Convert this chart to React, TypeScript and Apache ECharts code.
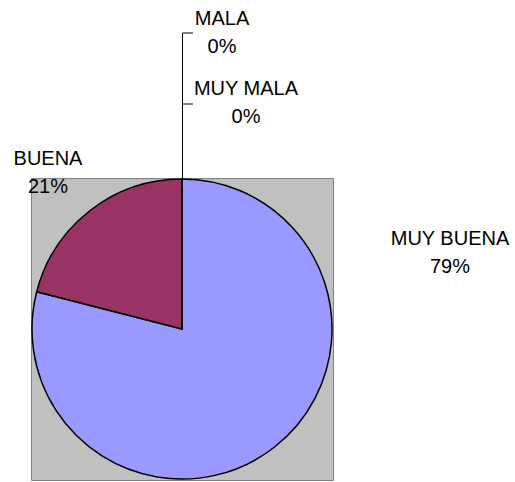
import React, { useEffect, useRef } from "react";
import * as echarts from "echarts";

const categories = ["MUY BUENA", "BUENA", "MALA", "MUY MALA"];
const values = [79, 21, 0, 0];
const colors = ["#9999FF", "#993366", "#FFFFCC", "#CCFFFF"];

// label centres (layout only)
const labelPos: [number, number][] = [
  [450, 252],
  [48, 172],
  [222, 32],
  [246, 102],
];

export default function App() {
  const ref = useRef<HTMLDivElement>(null);
  useEffect(() => {
    document.body.style.margin = "0";
    const chart = echarts.init(ref.current!, null, { renderer: "svg" });
    const font = "'Liberation Sans', Arial, sans-serif";
    chart.setOption({
      animation: false,
      backgroundColor: "#FFFFFF",
      graphic: [
        {
          type: "rect",
          z: -10,
          shape: { x: 31.5, y: 178.5, width: 302, height: 302 },
          style: { fill: "#C0C0C0", stroke: "#808080", lineWidth: 1 },
        },
      ],
      series: [
        {
          type: "pie",
          center: [182, 329],
          radius: 150,
          startAngle: 90,
          clockwise: true,
          percentPrecision: 0,
          avoidLabelOverlap: false,
          itemStyle: { borderColor: "#000000", borderWidth: 1.5 },
          label: {
            show: true,
            position: "outside",
            formatter: "{b}\n{d}%",
            fontFamily: font,
            fontSize: 20,
            lineHeight: 28,
            color: "#000000",
            align: "center",
          },
          labelLine: {
            show: true,
            lineStyle: { color: "#000000", width: 1 },
          },
          labelLayout: (params: any) => {
            const i = params.dataIndex;
            const [x, y] = labelPos[i];
            const out: any = { x, y, align: "center", verticalAlign: "middle" };
            if (i === 2) out.labelLinePoints = [[182.5, 179], [182.5, 33], [193, 33]];
            if (i === 3) out.labelLinePoints = [[182.5, 179], [182.5, 104], [193, 104]];
            return out;
          },
          data: categories.map((name, i) => ({
            name,
            value: values[i],
            itemStyle: { color: colors[i] },
            labelLine: { show: i >= 2 },
          })),
        },
      ],
    });
    return () => chart.dispose();
  }, []);
  return <div ref={ref} style={{ width: 515, height: 482 }} />;
}
